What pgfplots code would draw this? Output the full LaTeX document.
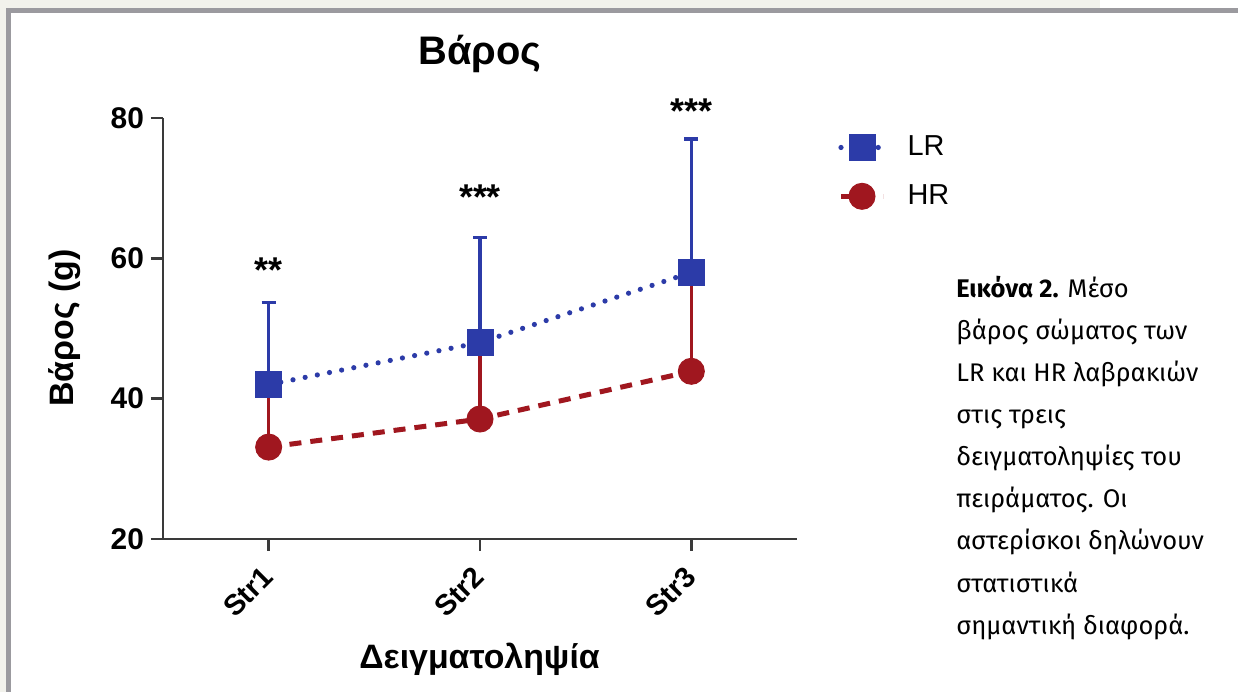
\documentclass[border=0pt]{standalone}
\usepackage{pgfplots}
\pgfplotsset{compat=1.18}
\usepackage{fontspec}
\setmainfont{Liberation Sans}
\newfontfamily\capfont{Fira Sans}
\definecolor{lrblue}{HTML}{2C3BA8}
\definecolor{hrred}{HTML}{A0171F}
\definecolor{axgray}{HTML}{3A3A3A}
\definecolor{framegray}{HTML}{9B9A9F}
\definecolor{beige}{HTML}{F2F2EC}

\pgfplotstableread{
x y ep
0 42.0 11.7
1 48.0 15.0
2 58.0 19.0
}\lrdata
\pgfplotstableread{
x y ep
0 33.1 9.2
1 37.1 10.9
2 43.9 12.7
}\hrdata

\begin{document}
\begin{tikzpicture}
\useasboundingbox (0,0) rectangle (619bp,346bp);
\fill[white] (0,0) rectangle (619bp,346bp);
\fill[beige] (0,342bp) rectangle (550bp,346bp);
\fill[beige] (0,0) rectangle (3bp,346bp);
\fill[framegray] (3bp,339.5bp) rectangle (619bp,342bp);
\fill[framegray] (3bp,0) rectangle (5.5bp,342bp);

\begin{axis}[
  at={(81.5bp,76.5bp)}, anchor=south west,
  scale only axis, width=317bp, height=210.5bp,
  xmin=-0.5, xmax=2.5, ymin=20, ymax=80,
  axis x line*=bottom, axis y line*=left,
  axis line style={axgray, line width=1.3bp},
  xtick={0,1,2}, xticklabels={Str1,Str2,Str3},
  ytick={20,40,60,80},
  tick style={axgray, line width=1.3bp}, tick align=outside,
  major tick length=6bp,
  xticklabel style={xshift=-4bp, yshift=-2bp, rotate=45, anchor=north east, font=\bfseries\fontsize{14.5}{14.5}\selectfont},
  yticklabel style={font=\bfseries\fontsize{15}{15}\selectfont},
  /pgf/number format/assume math mode=true,
  clip=false,
  legend style={draw=none, fill=none, at={(1.0647,0.872)}, anchor=west,
    inner sep=0pt, font=\fontsize{14.5}{14.5}\selectfont, row sep=9bp,
    cells={anchor=west}},
  legend image code/.code={\draw[mark repeat=2,mark phase=2] plot coordinates {(0bp,0bp)(10.5bp,0bp)(21bp,0bp)};},
]
\addplot[lrblue, line width=2.6bp, line cap=round, dash pattern=on 0pt off 6.2bp,
  mark=square*, mark size=6.5bp, mark options={solid, fill=lrblue, draw=lrblue, line width=0.5bp},
  error bars/.cd, y dir=plus, y explicit,
  error bar style={line width=1.6bp, solid, line cap=butt},
  error mark options={rotate=90, mark size=3.5bp, line width=1.6bp, solid}]
  table[x=x, y=y, y error plus=ep] {\lrdata};
\addlegendentry{\hspace{9bp}LR}
\addplot[hrred, line width=2.5bp, dash pattern=on 6bp off 4.5bp,
  mark=*, mark size=6.5bp, mark options={solid, fill=hrred, draw=hrred, line width=0.5bp},
  error bars/.cd, y dir=plus, y explicit,
  error bar style={line width=1.6bp, solid},
  error mark options={rotate=90, mark size=3.5bp, line width=1.6bp, solid}]
  table[x=x, y=y, y error plus=ep] {\hrdata};
\addlegendentry{\hspace{9bp}HR}
\node[font=\bfseries\fontsize{18}{18}\selectfont, anchor=base] at (axis cs:0,56.6) {**};
\node[font=\bfseries\fontsize{18}{18}\selectfont, anchor=base] at (axis cs:1,66.9) {***};
\node[font=\bfseries\fontsize{18}{18}\selectfont, anchor=base] at (axis cs:2,79.2) {***};
\end{axis}

\node[font=\bfseries\fontsize{20}{20}\selectfont, anchor=base] at (240bp,313.5bp) {Βάρος};
\node[font=\bfseries\fontsize{17}{17}\selectfont, rotate=90, anchor=base] at (36.5bp,182bp) {Βάρος (g)};
\node[font=\bfseries\fontsize{17}{17}\selectfont, anchor=base] at (239.75bp,12bp) {Δειγματοληψία};

\node[anchor=north west, inner sep=0pt, align=left, font=\capfont\fontsize{12.8}{21.1}\selectfont] at (478bp,208bp)
{\textbf{Εικόνα 2.} Μέσο\\
βάρος σώματος των\\
LR και HR λαβρακιών\\
στις τρεις\\
δειγματοληψίες του\\
πειράματος. Οι\\
αστερίσκοι δηλώνουν\\
στατιστικά\\
σημαντική διαφορά.};
\end{tikzpicture}
\end{document}
